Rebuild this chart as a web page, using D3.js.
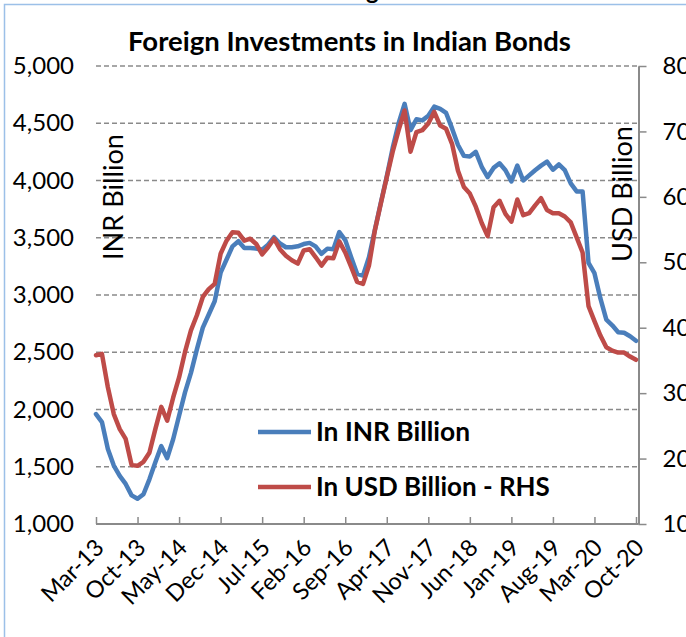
<!DOCTYPE html>
<html><head><meta charset="utf-8">
<script src="https://cdn.jsdelivr.net/npm/d3@7"></script>
<style>html,body{margin:0;padding:0;background:#fff;overflow:hidden}svg{display:block}</style>
</head><body>
<svg id="c" width="686" height="637"></svg>
<script>
// ---- data (monthly, Mar-13 .. Oct-20) ----
const tickLabels = ["Mar-13","Oct-13","May-14","Dec-14","Jul-15","Feb-16","Sep-16","Apr-17","Nov-17","Jun-18","Jan-19","Aug-19","Mar-20","Oct-20"];
const inrBillion = [1960,1890,1655,1510,1420,1350,1250,1220,1260,1390,1540,1680,1575,1740,1945,2150,
  2320,2525,2715,2830,2945,3195,3310,3425,3470,3410,3410,3405,3395,3440,3505,3450,
  3417,3417,3425,3445,3455,3425,3360,3405,3400,3550,3480,3330,3185,3170,3330,3570,
  3805,4035,4285,4500,4670,4440,4535,4525,4565,4645,4625,4590,4455,4310,4215,4210,
  4250,4120,4030,4110,4150,4090,3992,4130,4000,4045,4090,4130,4165,4094,4140,4090,
  3975,3905,3905,3280,3190,2970,2785,2735,2675,2670,2640,2600];
const usdBillion = [35.8,36.0,30.9,26.8,24.5,23.0,19.0,18.9,19.5,20.9,24.5,27.9,25.8,29.3,32.4,36.3,
  39.6,41.9,44.7,45.9,46.7,51.3,53.3,54.6,54.5,53.3,53.6,52.8,51.2,52.3,53.6,52.0,
  51.0,50.3,49.8,51.8,52.0,50.8,49.5,50.7,50.6,53.2,51.5,49.3,47.0,46.7,49.5,54.9,
  59.0,63.0,66.9,70.2,73.2,66.9,69.9,70.2,71.2,73.0,70.9,70.4,68.1,64.0,61.5,60.5,
  58.5,56.0,54.0,58.4,59.4,57.4,56.2,59.6,57.2,57.5,58.7,59.8,58.0,57.5,57.5,57.0,
  56.1,53.8,51.5,43.3,41.0,38.8,37.0,36.5,36.2,36.2,35.6,35.1];
const leftTicks = [1000,1500,2000,2500,3000,3500,4000,4500,5000];
const rightTicks = [10,20,30,40,50,60,70,80];
const seriesNames = ["In INR Billion","In USD Billion - RHS"];
const titleText = "Foreign Investments in Indian Bonds";

// categories: one per month starting Mar-13
const fmt = d3.timeFormat("%b-%y");
const categories = d3.timeMonth.range(new Date(2013,2,1), new Date(2013,2+inrBillion.length,1)).map(fmt);

const BLUE = "#4a7ebb", RED = "#be4b48", GRID = "#8a8a8a", AX = "#8a8a8a";
const FONT = "Lato, 'Open Sans', sans-serif";

const svg = d3.select("#c");
const L = 96, R = 636, T = 66, B = 524, RAX = 638.5;

const x = d3.scalePoint().domain(categories).range([L, R]);
const yL = d3.scaleLinear().domain([1000,5000]).range([B, T]);
const yR = d3.scaleLinear().domain([10,80]).range([B, T]);

function fit(sel, w){
  const n = sel.node(); const fs = parseFloat(sel.attr("font-size"));
  const cur = n.getComputedTextLength(); sel.attr("font-size", (fs*w/cur).toFixed(2));
}

// outer border (light blue)
svg.append("rect").attr("x",4.5).attr("y",4.5).attr("width",800).attr("height",800)
  .attr("fill","none").attr("stroke","#9cc0e8").attr("stroke-width",1.5);
svg.append("text").attr("x",366).attr("y",-1).attr("font-family",FONT).attr("font-weight","bold")
  .attr("font-size",24).attr("fill","#000").text("g");

// title
const tt = svg.append("text").attr("x",(128+571)/2).attr("y",51).attr("text-anchor","middle")
  .attr("font-family",FONT).attr("font-weight","bold").attr("font-size",24).attr("fill","#000").text(titleText);
fit(tt, 443);

// gridlines
svg.append("g").selectAll("line").data(leftTicks.filter(d=>d>1000)).join("line")
  .attr("x1",L).attr("x2",RAX).attr("y1",d=>yL(d)).attr("y2",d=>yL(d))
  .attr("stroke",GRID).attr("stroke-width",1.3).attr("stroke-dasharray","5,3");

// left axis labels
const lg = svg.append("g").attr("transform","translate(74,0)")
  .call(d3.axisLeft(yL).tickValues(leftTicks).tickSize(0).tickPadding(0).tickFormat(d3.format(",")));
lg.select(".domain").remove();
lg.selectAll("text").attr("font-family",FONT).attr("font-size",24).attr("fill","#000");

// right axis
const rg = svg.append("g").attr("transform",`translate(${RAX},0)`)
  .call(d3.axisRight(yR).tickValues(rightTicks).tickSize(8).tickPadding(16).tickSizeOuter(0));
rg.select(".domain").attr("stroke",AX).attr("stroke-width",2);
rg.selectAll(".tick line").attr("stroke",AX).attr("stroke-width",1.5);
rg.selectAll("text").attr("font-family",FONT).attr("font-size",24).attr("fill","#000");

// bottom axis
const bg = svg.append("g").attr("transform",`translate(0,${B})`)
  .call(d3.axisBottom(x).tickValues(tickLabels).tickSize(-7).tickSizeOuter(0).tickFormat(d=>d));
bg.select(".domain").attr("d",`M${L},0H${RAX}`).attr("stroke",AX).attr("stroke-width",2);
bg.selectAll(".tick line").attr("stroke",AX).attr("stroke-width",1.5);
bg.selectAll("text").attr("font-family",FONT).attr("font-size",23.5).attr("fill","#000")
  .attr("text-anchor","end").attr("dy",null).attr("y",null)
  .attr("transform","translate(9,25) rotate(-45)");

// axis titles
const inrT = svg.append("text").attr("transform","translate(123,197) rotate(-90)").attr("text-anchor","middle")
  .attr("font-family",FONT).attr("font-size",24).attr("fill","#000").text("INR Billion");
fit(inrT,126);
const usdT = svg.append("text").attr("transform","translate(632,194) rotate(-90)").attr("text-anchor","middle")
  .attr("font-family",FONT).attr("font-size",24).attr("fill","#000").text("USD Billion");
fit(usdT,136);

// lines
const lineL = d3.line().x((d,i)=>x(categories[i])).y(d=>yL(d));
const lineR = d3.line().x((d,i)=>x(categories[i])).y(d=>yR(d));
svg.append("path").datum(inrBillion).attr("d",lineL).attr("fill","none").attr("stroke",BLUE)
  .attr("stroke-width",4.5).attr("stroke-linejoin","round").attr("stroke-linecap","round");
svg.append("path").datum(usdBillion).attr("d",lineR).attr("fill","none").attr("stroke",RED)
  .attr("stroke-width",4.5).attr("stroke-linejoin","round").attr("stroke-linecap","round");

// legend
const legY = [432, 487], legW = [154, 234], cols=[BLUE,RED];
seriesNames.forEach((nm,i)=>{
  svg.append("line").attr("x1",258).attr("x2",311).attr("y1",legY[i]).attr("y2",legY[i])
    .attr("stroke",cols[i]).attr("stroke-width",4.5);
  const t = svg.append("text").attr("x",316).attr("y",legY[i]+9).attr("font-family",FONT)
    .attr("font-weight","bold").attr("font-size",24).attr("fill","#000").text(nm);
  fit(t, legW[i]);
});
</script>
</body></html>
